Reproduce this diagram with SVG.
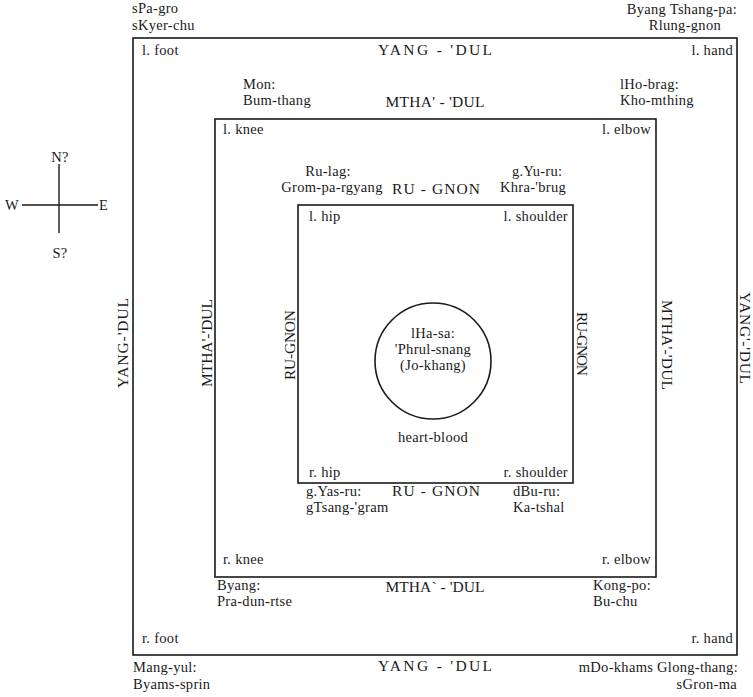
<svg xmlns="http://www.w3.org/2000/svg" width="753" height="697" viewBox="0 0 753 697">
<style>
text{font-family:"Liberation Serif","Times New Roman",serif;font-size:14.5px;letter-spacing:0.3px;fill:#1a1a1a}
.m{text-anchor:middle}
.e{text-anchor:end}
.c{font-size:15.5px;letter-spacing:0}
.box{fill:none;stroke:#1a1a1a;stroke-width:1.6}
.ln{stroke:#1a1a1a;stroke-width:1.4;fill:none}
</style>
<rect width="753" height="697" fill="#fff"/>
<g id="outer-square">
<rect class="box" x="133" y="38" width="604" height="617"/>
<text x="142" y="55">l. foot</text>
<text class="m c" x="435" y="55" textLength="114">YANG - 'DUL</text>
<text class="e" x="733" y="55">l. hand</text>
<text x="142" y="643">r. foot</text>
<text class="e" x="733" y="643">r. hand</text>
<text class="m c" transform="translate(128,343) rotate(-90)" textLength="90">YANG-'DUL</text>
<text class="m c" transform="translate(740,338) rotate(90)" textLength="92">YANG'-'DUL</text>
</g>
<g id="middle-square">
<rect class="box" x="215" y="119" width="441" height="458"/>
<text x="223" y="134">l. knee</text>
<text class="e" x="651" y="134">l. elbow</text>
<text x="223" y="564">r. knee</text>
<text class="e" x="651" y="564">r. elbow</text>
<text class="m c" x="435" y="107" textLength="99">MTHA' - 'DUL</text>
<text class="m c" x="435" y="592" textLength="99">MTHA` - 'DUL</text>
<text class="m c" transform="translate(212,343) rotate(-90)" textLength="88">MTHA'-'DUL</text>
<text class="m c" transform="translate(662,345) rotate(90)" textLength="90">MTHA'-'DUL</text>
</g>
<g id="inner-square">
<rect class="box" x="298" y="205" width="275" height="278"/>
<text x="309" y="221">l. hip</text>
<text class="e" x="568" y="221">l. shoulder</text>
<text x="309" y="477">r. hip</text>
<text class="e" x="568" y="477">r. shoulder</text>
<text class="m c" x="436" y="194" textLength="88">RU - GNON</text>
<text class="m c" x="436" y="496" textLength="88">RU - GNON</text>
<text class="m c" transform="translate(295,345) rotate(-90)" textLength="70">RU-GNON</text>
<text class="m c" transform="translate(577,344) rotate(90)" textLength="64">RU-GNON</text>
</g>
<g id="center">
<circle class="box" cx="433" cy="361" r="58"/>
<text class="m" x="433" y="338">lHa-sa:</text>
<text class="m" x="433" y="354">'Phrul-snang</text>
<text class="m" x="433" y="370">(Jo-khang)</text>
<text class="m" x="433" y="442">heart-blood</text>
</g>
<g id="places">
<text x="132" y="13">sPa-gro</text>
<text x="132" y="30">sKyer-chu</text>
<text class="e" x="737" y="14">Byang Tshang-pa:</text>
<text class="e" x="721" y="30">Rlung-gnon</text>
<text x="243" y="89">Mon:</text>
<text x="243" y="105">Bum-thang</text>
<text x="620" y="89">lHo-brag:</text>
<text x="620" y="105">Kho-mthing</text>
<text class="m" x="328" y="176">Ru-lag:</text>
<text class="m" x="332" y="192">Grom-pa-rgyang</text>
<text x="512" y="176">g.Yu-ru:</text>
<text x="500" y="192">Khra-'brug</text>
<text x="306" y="496">g.Yas-ru:</text>
<text x="306" y="512">gTsang-'gram</text>
<text x="513" y="496">dBu-ru:</text>
<text x="513" y="512">Ka-tshal</text>
<text x="217" y="590">Byang:</text>
<text x="217" y="606">Pra-dun-rtse</text>
<text x="593" y="590">Kong-po:</text>
<text x="593" y="606">Bu-chu</text>
<text x="133" y="672">Mang-yul:</text>
<text x="133" y="689">Byams-sprin</text>
<text class="m c" x="435" y="671" textLength="114">YANG - 'DUL</text>
<text class="e" x="738" y="672">mDo-khams Glong-thang:</text>
<text class="e" x="737" y="689">sGron-ma</text>
</g>
<g id="compass">
<line class="ln" x1="59" y1="164" x2="59" y2="233"/>
<line class="ln" x1="22" y1="205" x2="98" y2="205"/>
<text class="m" x="60" y="162">N?</text>
<text class="m" x="60" y="258">S?</text>
<text x="5" y="210">W</text>
<text x="99" y="210">E</text>
</g>
</svg>
